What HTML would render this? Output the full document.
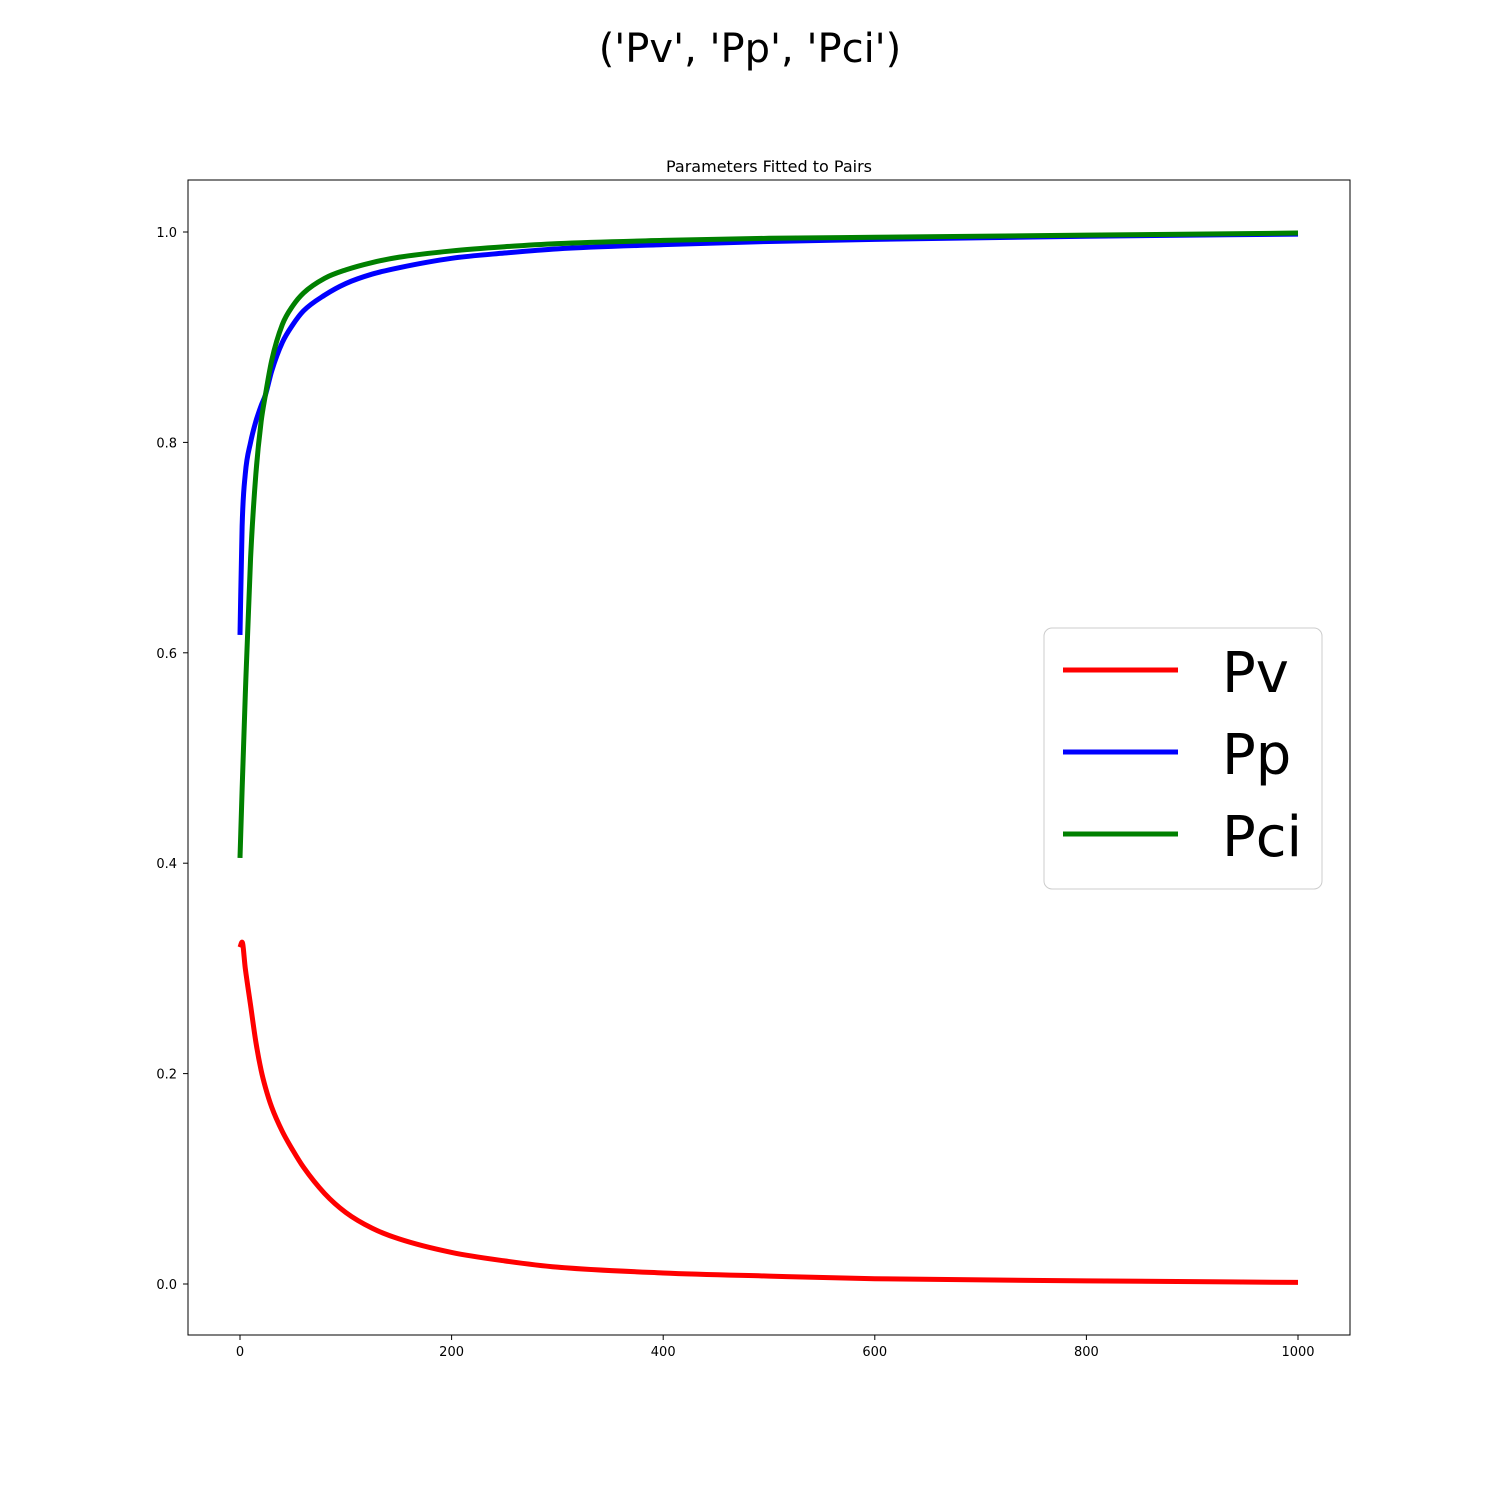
<!DOCTYPE html>
<html><head><meta charset="utf-8"><style>
body{margin:0;background:#fff;}
svg{display:block;font-family:"DejaVu Sans","Liberation Sans",sans-serif;}
</style></head><body>
<svg id="chart" width="1500" height="1500" viewBox="0 0 1500 1500">
<rect width="1500" height="1500" fill="#fff"/>
<text x="750" y="62" font-size="40" text-anchor="middle">('Pv', 'Pp', 'Pci')</text>
<text x="769" y="172" font-size="16" text-anchor="middle">Parameters Fitted to Pairs</text>
<g id="ticks"></g>
<g id="lines"></g>
<rect x="188" y="180" width="1162" height="1155" fill="none" stroke="#000" stroke-width="1"/>
<g>
<rect x="1044" y="628" width="278" height="261" rx="8" fill="#fff" fill-opacity="0.8" stroke="#ccc" stroke-width="1"/>
<line x1="1063" y1="670" x2="1178" y2="670" stroke="#ff0000" stroke-width="5"/>
<text x="1222" y="692" font-size="56">Pv</text>
<line x1="1063" y1="752" x2="1178" y2="752" stroke="#0000ff" stroke-width="5"/>
<text x="1222" y="774" font-size="56">Pp</text>
<line x1="1063" y1="834" x2="1178" y2="834" stroke="#008000" stroke-width="5"/>
<text x="1222" y="856" font-size="56">Pci</text>
</g>
</svg>
<script>
const xs = [0,2,5,10,15,20,24,30,40,50,60,80,100,125,150,200,250,300,400,500,600,800,1000];
const pv = [0.32,0.325,0.30,0.265,0.23,0.203,0.187,0.168,0.145,0.127,0.111,0.086,0.068,0.053,0.043,0.030,0.022,0.016,0.0105,0.0075,0.005,0.003,0.0015];
const pp = [0.617,0.72,0.77,0.80,0.82,0.835,0.845,0.868,0.895,0.912,0.925,0.94,0.951,0.96,0.966,0.975,0.98,0.984,0.988,0.991,0.993,0.996,0.998];
const pci = [0.405,0.47,0.56,0.69,0.77,0.82,0.845,0.878,0.912,0.93,0.942,0.956,0.964,0.971,0.976,0.982,0.986,0.989,0.992,0.994,0.995,0.997,0.999];
const xTicks = [0,200,400,600,800,1000];
const yTicks = [0.0,0.2,0.4,0.6,0.8,1.0];
const NS="http://www.w3.org/2000/svg";
function X(v){return 240+v*1.058;}
function Y(v){return 1284-v*1052;}
const tg=document.getElementById('ticks');
xTicks.forEach(t=>{
  const l=document.createElementNS(NS,'line');
  l.setAttribute('x1',X(t));l.setAttribute('x2',X(t));l.setAttribute('y1',1335);l.setAttribute('y2',1340);l.setAttribute('stroke','#000');
  
  
  tg.appendChild(l);
  const tx=document.createElementNS(NS,'text');
  tx.setAttribute('x',X(t));tx.setAttribute('y',1356);tx.setAttribute('font-size','13');tx.setAttribute('text-anchor','middle');
  tx.textContent=String(t);
  
  
  tg.appendChild(tx);
});
yTicks.forEach(t=>{
  const l=document.createElementNS(NS,'line');
  l.setAttribute('x1',183);l.setAttribute('x2',188);l.setAttribute('y1',Y(t));l.setAttribute('y2',Y(t));l.setAttribute('stroke','#000');
  
  
  tg.appendChild(l);
  const tx=document.createElementNS(NS,'text');
  tx.setAttribute('x',177);tx.setAttribute('y',Y(t)+5);tx.setAttribute('font-size','13');tx.setAttribute('text-anchor','end');
  tx.textContent=t.toFixed(1);
  
  
  tg.appendChild(tx);
});
function smoothPath(pts){
  // monotone cubic (Fritsch-Carlson) through points
  const n=pts.length, d=[], m=[];
  for(let i=0;i<n-1;i++) d.push((pts[i+1][1]-pts[i][1])/(pts[i+1][0]-pts[i][0]));
  m.push(d[0]);
  for(let i=1;i<n-1;i++) m.push(d[i-1]*d[i]<=0?0:(d[i-1]+d[i])/2);
  m.push(d[n-2]);
  for(let i=0;i<n-1;i++){
    if(d[i]===0){m[i]=0;m[i+1]=0;continue;}
    const a=m[i]/d[i], b=m[i+1]/d[i], s=a*a+b*b;
    if(s>9){const t=3/Math.sqrt(s);m[i]=t*a*d[i];m[i+1]=t*b*d[i];}
  }
  let s='M'+pts[0][0]+','+pts[0][1];
  for(let i=0;i<n-1;i++){
    const h=(pts[i+1][0]-pts[i][0])/3;
    s+=' C'+(pts[i][0]+h)+','+(pts[i][1]+m[i]*h)+' '+(pts[i+1][0]-h)+','+(pts[i+1][1]-m[i+1]*h)+' '+pts[i+1][0]+','+pts[i+1][1];
  }
  return s;
}
const lg=document.getElementById('lines');
[[pv,'#ff0000','line-pv'],[pp,'#0000ff','line-pp'],[pci,'#008000','line-pci']].forEach(([ys,c,n])=>{
  const p=document.createElementNS(NS,'path');
  p.setAttribute('d',smoothPath(xs.map((x,i)=>[X(x),Y(ys[i])])));
  p.setAttribute('fill','none');p.setAttribute('stroke',c);p.setAttribute('stroke-width','5');p.setAttribute('stroke-linejoin','round');
  
  
  lg.appendChild(p);
});
</script>
</body></html>
